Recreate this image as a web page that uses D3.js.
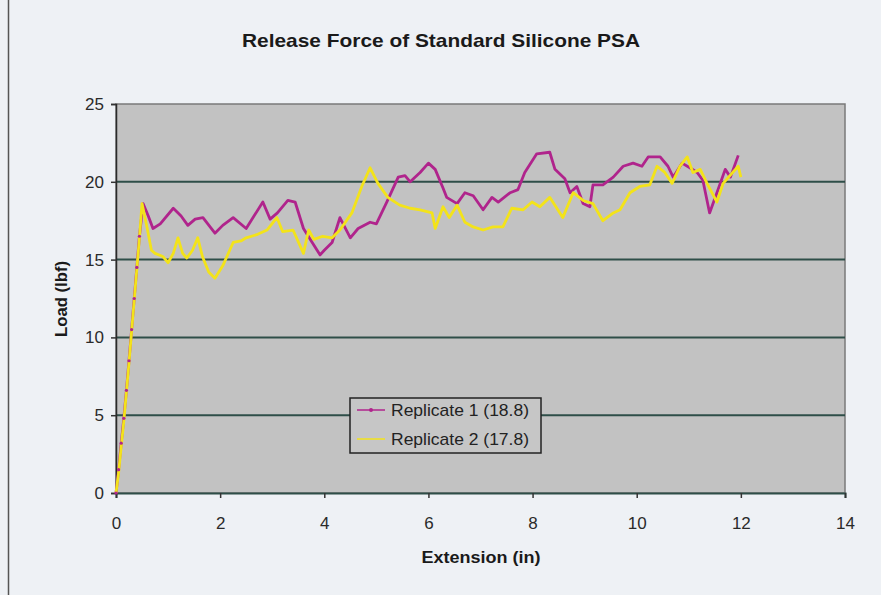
<!DOCTYPE html>
<html>
<head>
<meta charset="utf-8">
<script src="https://d3js.org/d3.v7.min.js"></script>
<style>
  body { margin: 0; background: #eef1f5; }
  svg { display: block; font-family: Arial, "Liberation Sans", sans-serif; }
</style>
</head>
<body>
<div id="chart"></div>
<script>
// values
var xTicks = [0, 2, 4, 6, 8, 10, 12, 14];
var yTicks = [0, 5, 10, 15, 20, 25];
var seriesNames = ["Replicate 1 (18.8)", "Replicate 2 (17.8)"];

// Replicate 1: [extension (in), load (lbf)]
var rep1 = [
  [0,0],[0.05,1.5],[0.1,3.2],[0.15,4.8],[0.2,6.6],[0.25,8.5],[0.3,10.5],[0.35,12.5],
  [0.4,14.5],[0.45,16.5],[0.52,18.6],[0.62,17.8],[0.71,17.0],[0.85,17.3],[1.1,18.3],
  [1.25,17.8],[1.38,17.2],[1.52,17.6],[1.67,17.7],[1.9,16.7],[2.05,17.2],[2.25,17.7],
  [2.5,17.0],[2.65,17.8],[2.82,18.7],[2.96,17.6],[3.1,18.0],[3.3,18.8],[3.44,18.7],
  [3.6,17.0],[3.75,16.2],[3.92,15.3],[4.0,15.6],[4.15,16.1],[4.3,17.7],[4.5,16.4],
  [4.65,17.0],[4.88,17.4],[5.0,17.3],[5.2,18.7],[5.42,20.3],[5.55,20.4],[5.65,20.0],
  [5.84,20.6],[6.0,21.2],[6.13,20.8],[6.28,19.6],[6.35,19.0],[6.55,18.6],[6.7,19.3],
  [6.86,19.1],[7.05,18.2],[7.22,19.0],[7.34,18.7],[7.57,19.3],[7.72,19.5],[7.85,20.6],
  [8.08,21.8],[8.33,21.9],[8.43,20.8],[8.62,20.2],[8.72,19.3],[8.85,19.7],[8.97,18.6],
  [9.1,18.4],[9.16,19.8],[9.35,19.8],[9.55,20.3],[9.74,21.0],[9.93,21.2],[10.1,21.0],
  [10.22,21.6],[10.45,21.6],[10.6,21.0],[10.7,20.3],[10.87,21.2],[11.02,20.9],
  [11.16,20.6],[11.27,20.1],[11.4,18.0],[11.54,19.3],[11.7,20.8],[11.8,20.3],[11.95,21.7]
];

// Replicate 2
var rep2 = [
  [0,0],[0.05,1.3],[0.1,3.0],[0.15,4.6],[0.2,6.5],[0.25,8.4],[0.3,10.4],[0.35,12.4],
  [0.4,14.4],[0.45,16.4],[0.5,18.6],[0.6,17.0],[0.68,15.6],[0.75,15.4],[0.9,15.2],
  [1.0,14.8],[1.1,15.4],[1.19,16.4],[1.28,15.4],[1.36,15.1],[1.47,15.6],[1.57,16.4],
  [1.66,15.2],[1.78,14.2],[1.9,13.8],[2.05,14.6],[2.25,16.1],[2.4,16.2],[2.5,16.4],
  [2.7,16.6],[2.9,16.9],[3.09,17.7],[3.2,16.8],[3.4,16.9],[3.6,15.4],[3.7,16.9],
  [3.8,16.3],[3.97,16.5],[4.15,16.4],[4.3,16.9],[4.53,18.0],[4.72,19.7],[4.88,20.9],
  [5.03,19.9],[5.22,19.0],[5.45,18.5],[5.65,18.3],[5.84,18.2],[6.07,18.0],[6.13,17.0],
  [6.28,18.4],[6.4,17.7],[6.55,18.5],[6.7,17.4],[6.86,17.1],[7.05,16.9],[7.24,17.1],
  [7.43,17.1],[7.6,18.3],[7.82,18.2],[7.99,18.7],[8.14,18.4],[8.33,19.0],[8.58,17.7],
  [8.78,19.3],[8.97,18.8],[9.16,18.6],[9.35,17.5],[9.55,18.0],[9.68,18.2],[9.87,19.3],
  [10.06,19.7],[10.25,19.8],[10.39,21.0],[10.54,20.6],[10.68,19.9],[10.83,21.0],
  [10.97,21.6],[11.08,20.6],[11.22,20.8],[11.35,19.9],[11.54,18.7],[11.66,19.9],
  [11.79,20.4],[11.95,21.0],[12.0,20.3]
];

var W = 881, H = 595;
var plot = {left: 116, right: 845, top: 104, bottom: 493};
var colors = ["#b0248c", "#f3e31a"];

var svg = d3.select("#chart").append("svg")
    .attr("width", W).attr("height", H);

// page frame
svg.append("line").attr("x1", 8.5).attr("x2", 8.5).attr("y1", 0).attr("y2", H)
    .attr("stroke", "#555").attr("stroke-width", 1.5);

var x = d3.scaleLinear().domain([0, 14]).range([plot.left, plot.right]);
var y = d3.scaleLinear().domain([0, 25]).range([plot.bottom, plot.top]);

// plot area
svg.append("rect")
    .attr("x", plot.left).attr("y", plot.top)
    .attr("width", plot.right - plot.left).attr("height", plot.bottom - plot.top)
    .attr("fill", "#c2c2c2")
    .attr("stroke", "#7a7a7a").attr("stroke-width", 1.5);

// gridlines
svg.append("g")
  .selectAll("line")
  .data(yTicks.filter(d => d > 0 && d < 25))
  .join("line")
    .attr("x1", plot.left).attr("x2", plot.right)
    .attr("y1", d => y(d)).attr("y2", d => y(d))
    .attr("stroke", "#2e4e48").attr("stroke-width", 2);

// axes
var yAxis = svg.append("g")
    .attr("transform", `translate(${plot.left},0)`)
    .call(d3.axisLeft(y).tickValues(yTicks).tickSize(5).tickPadding(7));
var xAxis = svg.append("g")
    .attr("transform", `translate(0,${plot.bottom})`)
    .call(d3.axisBottom(x).tickValues(xTicks).tickSize(5).tickPadding(19));

yAxis.select(".domain").attr("stroke", "#2a2a2a").attr("stroke-width", 1.5);
xAxis.select(".domain").attr("stroke", "#2e4e48").attr("stroke-width", 2);
[xAxis, yAxis].forEach(function (a) {
  a.selectAll(".tick line").attr("stroke", "#333").attr("stroke-width", 1.5);
  a.selectAll(".tick text")
      .attr("font-family", "Arial, 'Liberation Sans', sans-serif")
      .attr("font-size", 17).attr("fill", "#2a2a2a");
});

// lines
var line = d3.line().x(d => x(d[0])).y(d => y(d[1]));
[rep1, rep2].forEach(function (s, i) {
  svg.append("path")
      .datum(s)
      .attr("fill", "none")
      .attr("stroke", colors[i])
      .attr("stroke-width", 2.8)
      .attr("stroke-linejoin", "round")
      .attr("d", line);
});
// small markers on replicate 1
svg.append("g")
  .selectAll("circle")
  .data(rep1.filter(d => d[0] < 0.5))
  .join("circle")
    .attr("cx", d => x(d[0])).attr("cy", d => y(d[1]))
    .attr("r", 1.6).attr("fill", colors[0]);

// title and axis titles
svg.append("text")
    .attr("x", 441).attr("y", 47)
    .attr("text-anchor", "middle")
    .attr("font-size", 19).attr("font-weight", "bold").attr("fill", "#1a1a1a")
    .attr("textLength", 398).attr("lengthAdjust", "spacingAndGlyphs")
    .text("Release Force of Standard Silicone PSA");

svg.append("text")
    .attr("transform", "translate(67,299) rotate(-90)")
    .attr("text-anchor", "middle")
    .attr("font-size", 16.5).attr("font-weight", "bold").attr("fill", "#1a1a1a")
    .attr("textLength", 76).attr("lengthAdjust", "spacingAndGlyphs")
    .text("Load (lbf)");

svg.append("text")
    .attr("x", 481).attr("y", 563)
    .attr("text-anchor", "middle")
    .attr("font-size", 16.5).attr("font-weight", "bold").attr("fill", "#1a1a1a")
    .attr("textLength", 119).attr("lengthAdjust", "spacingAndGlyphs")
    .text("Extension (in)");

// legend
var lg = svg.append("g").attr("transform", "translate(350,398)");
lg.append("rect")
    .attr("width", 191).attr("height", 55)
    .attr("fill", "#c6c6c6")
    .attr("stroke", "#222").attr("stroke-width", 1.5);
seriesNames.forEach(function (name, i) {
  var yy = 12 + i * 29;
  lg.append("line")
      .attr("x1", 7).attr("x2", 35).attr("y1", yy).attr("y2", yy)
      .attr("stroke", colors[i]).attr("stroke-width", 1.5);
  if (i === 0) {
    lg.append("circle").attr("cx", 21).attr("cy", yy).attr("r", 2).attr("fill", colors[0]);
  }
  lg.append("text")
      .attr("x", 41).attr("y", yy + 6)
      .attr("font-size", 17).attr("fill", "#222")
      .attr("textLength", 138).attr("lengthAdjust", "spacingAndGlyphs")
      .text(name);
});
</script>
</body>
</html>
